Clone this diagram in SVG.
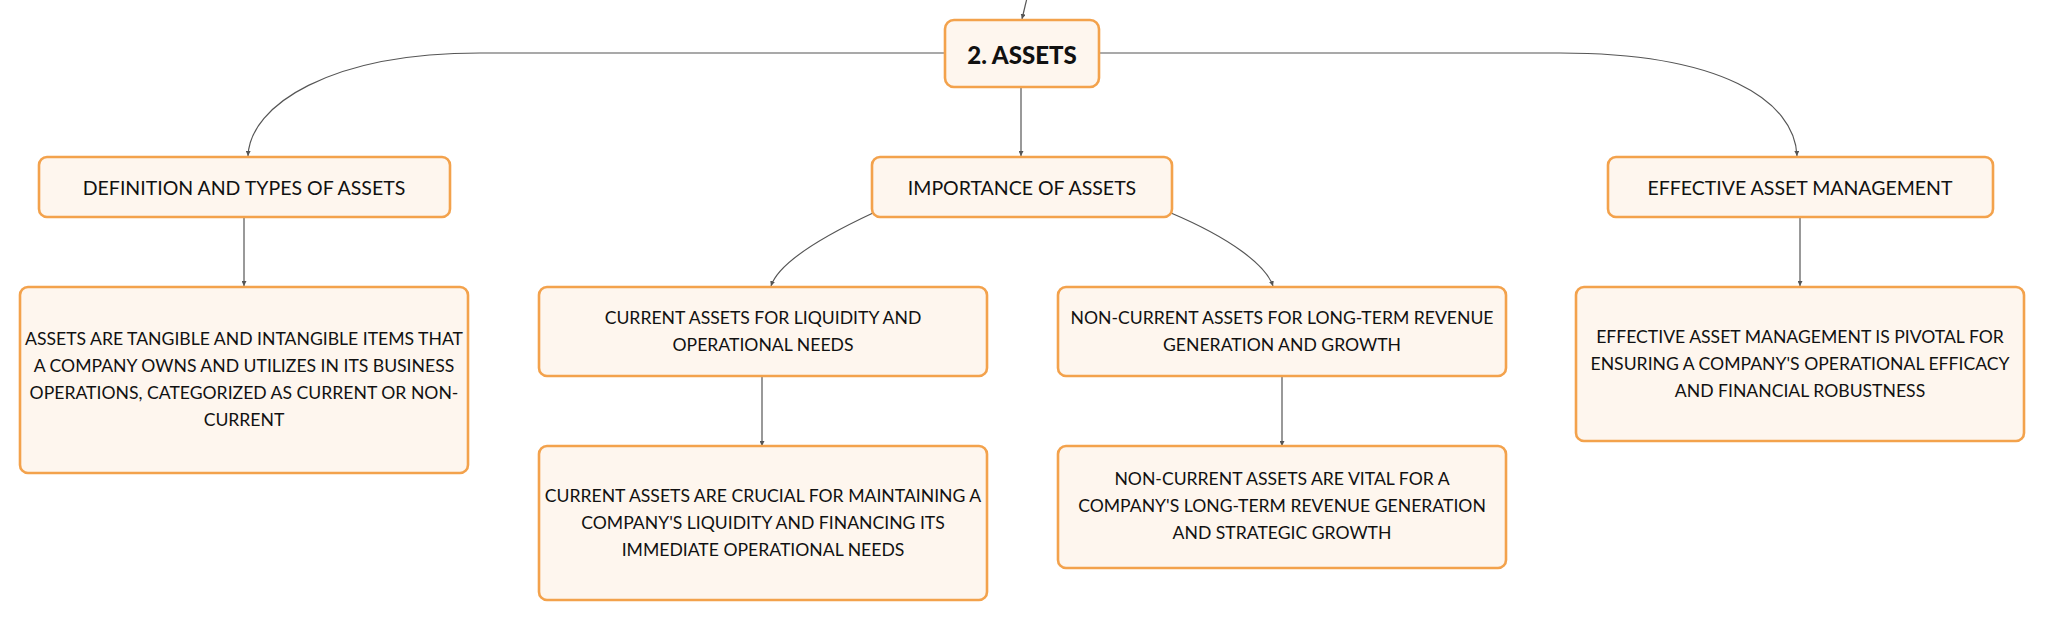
<svg xmlns="http://www.w3.org/2000/svg" width="2046" height="620" viewBox="0 0 2046 620">
<defs>
<style>
.box{fill:#FEF6EE;stroke:#F3A24C;stroke-width:2.6}
.t{font-family:Lato,"Noto Sans",sans-serif;font-size:17.6px;fill:#111;text-anchor:middle;dominant-baseline:central}
.t1{font-size:19.5px}
.root{font-family:Lato,"Noto Sans",sans-serif;font-weight:900;font-size:24px;fill:#111;text-anchor:middle;dominant-baseline:central}
.c{fill:none;stroke:#555;stroke-width:1.2;marker-end:url(#ah)}
</style>
<marker id="ah" viewBox="0 0 6 6" refX="6" refY="3" markerWidth="5" markerHeight="5" orient="auto" markerUnits="userSpaceOnUse">
<path d="M0,0 L6,3 L0,6 z" fill="#555"/>
</marker>
</defs>
<rect width="2046" height="620" fill="#fff"/>
<g id="connectors">
<path class="c" d="M1027,-2 L1022,19"/>
<path class="c" d="M945,53 L480,53 C330,53 250,105 248,156"/>
<path class="c" d="M1099,53 L1560,53 C1720,53 1795,100 1797,156"/>
<path class="c" d="M1021,87 L1021,156"/>
<path class="c" d="M244,217 L244,286"/>
<path class="c" d="M873,213 C815,240 778,265 771,286"/>
<path class="c" d="M1171,213 C1230,238 1266,265 1273,286"/>
<path class="c" d="M1800,217 L1800,286"/>
<path class="c" d="M762,376 L762,446"/>
<path class="c" d="M1282,376 L1282,446"/>
</g>
<g id="root">
<rect class="box" x="945" y="20" width="154" height="67" rx="9"/>
<text class="root" x="1022" y="54">2. ASSETS</text>
</g>
<g id="definition">
<rect class="box" x="39" y="157" width="411" height="60" rx="8"/>
<text class="t t1" x="244" y="187">DEFINITION AND TYPES OF ASSETS</text>
</g>
<g id="importance">
<rect class="box" x="872" y="157" width="300" height="60" rx="8"/>
<text class="t t1" x="1022" y="187">IMPORTANCE OF ASSETS</text>
</g>
<g id="effective">
<rect class="box" x="1608" y="157" width="385" height="60" rx="8"/>
<text class="t t1" x="1800" y="187">EFFECTIVE ASSET MANAGEMENT</text>
</g>
<g id="definition-detail">
<rect class="box" x="20" y="287" width="448" height="186" rx="8"/>
<text class="t" x="244" y="338">ASSETS ARE TANGIBLE AND INTANGIBLE ITEMS THAT</text>
<text class="t" x="244" y="365">A COMPANY OWNS AND UTILIZES IN ITS BUSINESS</text>
<text class="t" x="244" y="392">OPERATIONS, CATEGORIZED AS CURRENT OR NON-</text>
<text class="t" x="244" y="419">CURRENT</text>
</g>
<g id="current">
<rect class="box" x="539" y="287" width="448" height="89" rx="8"/>
<text class="t" x="763" y="317">CURRENT ASSETS FOR LIQUIDITY AND</text>
<text class="t" x="763" y="344">OPERATIONAL NEEDS</text>
</g>
<g id="current-detail">
<rect class="box" x="539" y="446" width="448" height="154" rx="8"/>
<text class="t" x="763" y="495">CURRENT ASSETS ARE CRUCIAL FOR MAINTAINING A</text>
<text class="t" x="763" y="522">COMPANY'S LIQUIDITY AND FINANCING ITS</text>
<text class="t" x="763" y="549">IMMEDIATE OPERATIONAL NEEDS</text>
</g>
<g id="noncurrent">
<rect class="box" x="1058" y="287" width="448" height="89" rx="8"/>
<text class="t" x="1282" y="317">NON-CURRENT ASSETS FOR LONG-TERM REVENUE</text>
<text class="t" x="1282" y="344">GENERATION AND GROWTH</text>
</g>
<g id="noncurrent-detail">
<rect class="box" x="1058" y="446" width="448" height="122" rx="8"/>
<text class="t" x="1282" y="478">NON-CURRENT ASSETS ARE VITAL FOR A</text>
<text class="t" x="1282" y="505">COMPANY'S LONG-TERM REVENUE GENERATION</text>
<text class="t" x="1282" y="532">AND STRATEGIC GROWTH</text>
</g>
<g id="effective-detail">
<rect class="box" x="1576" y="287" width="448" height="154" rx="8"/>
<text class="t" x="1800" y="336">EFFECTIVE ASSET MANAGEMENT IS PIVOTAL FOR</text>
<text class="t" x="1800" y="363">ENSURING A COMPANY'S OPERATIONAL EFFICACY</text>
<text class="t" x="1800" y="390">AND FINANCIAL ROBUSTNESS</text>
</g>
</svg>
